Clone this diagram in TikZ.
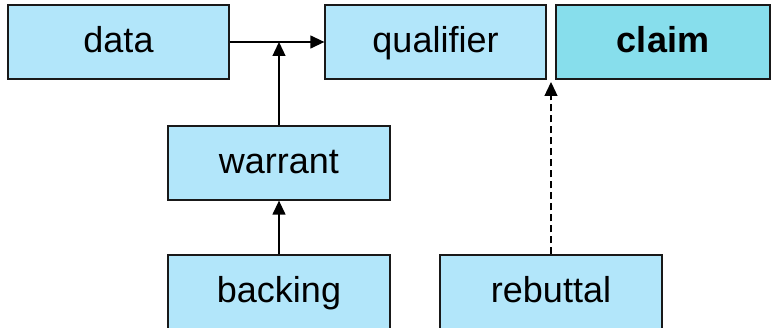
\documentclass[tikz,border=0pt]{standalone}
\usepackage{fontspec}
\setmainfont{Liberation Sans}
\usetikzlibrary{arrows.meta}
\definecolor{boxblue}{RGB}{178,230,250}
\definecolor{claimblue}{RGB}{135,222,236}
\definecolor{edge}{RGB}{25,25,25}
\tikzset{
  box/.style={draw=edge, line width=1.3pt, fill=boxblue, rectangle, inner sep=0pt,
    minimum width=221pt, minimum height=74pt, text height=28pt, text depth=6pt,
    font=\fontsize{36}{43}\selectfont, text=black},
  conn/.style={line width=1.3pt, draw=black, -{Triangle[length=14pt,width=13pt]}},
  dconn/.style={conn, dash pattern=on 7pt off 4pt}
}
\begin{document}
\begin{tikzpicture}[x=1pt,y=-1pt]
\useasboundingbox (0,0) rectangle (771,328);
\clip (0,0) rectangle (771,328);
\node[box] (data) at (118.5,42) {data};
\node[box] (qualifier) at (435.5,42) {qualifier};
\node[box, fill=claimblue, minimum width=214pt, font=\fontsize{36}{43}\selectfont\bfseries] (claim) at (663,42) {claim};
\node[box, minimum width=222pt] (warrant) at (279,163) {warrant};
\node[box, minimum width=222pt] (backing) at (279,292) {backing};
\node[box, minimum width=222pt] (rebuttal) at (551,292) {rebuttal};
\coordinate (rebtip) at (551,82);
\draw[conn] (data.east) -- (qualifier.west);
\draw[conn] (warrant.north) -- (warrant.north |- data.east);
\draw[conn] (backing.north) -- (warrant.south);
\draw[dconn] (rebuttal.north) -- (rebtip);
\end{tikzpicture}
\end{document}
